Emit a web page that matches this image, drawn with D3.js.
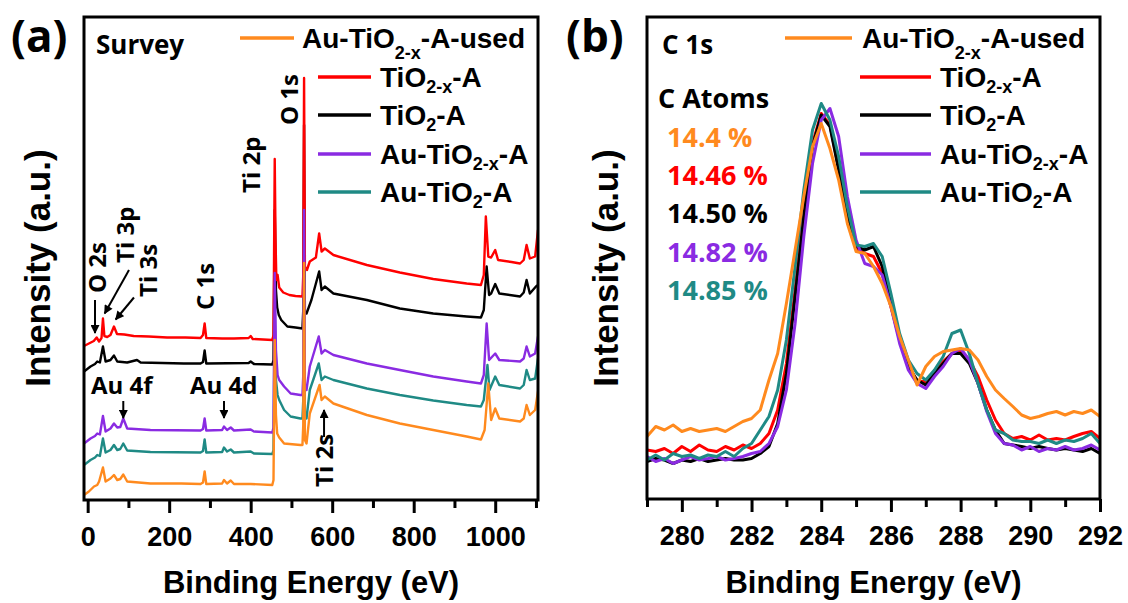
<!DOCTYPE html>
<html>
<head>
<meta charset="utf-8">
<script src="https://cdnjs.cloudflare.com/ajax/libs/d3/7.8.5/d3.min.js"></script>
<style>
    body { margin: 0; background: #fff; }
    svg text { font-family: "Liberation Sans", Arial, sans-serif; font-weight: bold; fill: #000; }
    svg text.os { font-family: "Open Sans", sans-serif; }
</style>
</head>
<body>
<svg id="chart" width="1128" height="603"></svg>
<script>
// ---- data ----
var sampleNames = ["Au-TiO2-x-A-used", "TiO2-x-A", "TiO2-A", "Au-TiO2-x-A", "Au-TiO2-A"];
var sampleColors = ["#ff8a1e", "#ff0000", "#000000", "#8a2be2", "#1f8a85"];
// legend label pieces: main, subscript, tail
var legendParts = [
    ["Au-TiO", "2-x", "-A-used"],
    ["TiO", "2-x", "-A"],
    ["TiO", "2", "-A"],
    ["Au-TiO", "2-x", "-A"],
    ["Au-TiO", "2", "-A"]
];
var carbonPercent = ["14.4 %", "14.46 %", "14.50 %", "14.82 %", "14.85 %"];

var surveyTicks = [0, 200, 400, 600, 800, 1000];
var surveyMinor = [100, 300, 500, 700, 900, 1100];
var c1sTicks = [280, 282, 284, 286, 288, 290, 292];
var c1sMinor = [279, 281, 283, 285, 287, 289, 291];

// survey spectra [binding energy, intensity], offset stacked
var surveyUsed = [[-9,1],[3,1.7],[15.5,2.7],[23.5,3],[28,3.7],[37.5,6.5],[44,3.7],[56,4.3],[64.5,5],[72.6,4],[80,4.2],[87.4,5.1],[97,3.7],[154,3.3],[230,3.3],[277,3.2],[283,3.5],[287,5.7],[291,3.2],[330,3.3],[334.5,4],[342,3.3],[351,3.9],[359,3.2],[400,3.2],[453,3],[456,4],[459,32],[462,17],[465,13.3],[470,12.5],[482,11.3],[522,11],[527,11],[529,15],[531,47.4],[533,12],[537,11.3],[545,17.3],[569,23],[574,20],[582,20.7],[603,19.3],[685,17],[766,15.3],[848,14],[930,12.7],[965,12.1],[974,14],[983,23.3],[990,16],[1000,18.3],[1010,16.3],[1061,15.7],[1070,16.3],[1077,19],[1085,17],[1098,18],[1105,21.7]];
var surveyTiO2xA = [[-9,30.8],[3,31.3],[15,31.8],[22,32.5],[28,31.7],[34,32.4],[37.5,36.3],[41,32.8],[48,32.6],[56,33],[64.5,34.7],[72,33.2],[90,33.1],[113,32.8],[150,32.7],[195,32.5],[240,32.5],[277,32.4],[283,33],[287,35.3],[291,32.4],[330,32.3],[359,32.3],[395,32.4],[400,32.8],[405,32.2],[453,32],[456,33],[459,68.2],[461,52],[463,44],[466,45],[470,42.5],[480,41.5],[495,41],[510,40.8],[527,40.7],[529,45],[531,84.4],[533,46.7],[538,46],[545,47.7],[560,48.5],[568,53.3],[574,49.7],[582,50.3],[603,49],[685,47],[766,45.5],[848,44.2],[930,43.3],[965,43],[972,45],[977,56.7],[983,48.7],[990,48.5],[1000,50],[1007,48],[1040,47.6],[1061,47.3],[1070,48],[1077,51],[1085,48.3],[1098,48.7],[1105,54]];
var surveyTiO2A = [[-9,25.7],[7,26.7],[18,27.2],[23.5,27.7],[30,27.5],[37.5,30.7],[44,27.7],[56,28],[64.5,28.9],[72.6,27.7],[97,27.5],[121,28],[130,27.5],[236,27.3],[277,27.3],[283,27.6],[287,29.9],[291,27.3],[395,27.4],[400,27.7],[408,27.2],[453,27.1],[456,28],[459,58],[462,42],[465,38.5],[469,37],[475,36],[490,34.7],[510,34.5],[527,34.3],[529,38],[531,75],[533,37.5],[537,37.3],[549,40],[568,45.7],[574,42],[582,42.7],[603,41.3],[685,40],[766,38.3],[848,37.3],[930,36.7],[965,36.5],[972,38],[979,46.7],[985,41],[990,41.3],[1000,43.2],[1010,41.3],[1061,40.7],[1070,41.5],[1077,44],[1085,41.3],[1100,42.7],[1105,43]];
var surveyAuTiO2xA = [[-9,11.3],[7,12.3],[18,12.8],[23.5,13.3],[30,13.1],[37.5,16.8],[44,13.7],[56,14.3],[64.5,15.3],[72.6,14.5],[80,14.6],[87.4,16.3],[97,14.3],[154,14],[277,13.9],[283,14.2],[287,16.3],[291,13.9],[330,14],[334.5,14.7],[342,14],[351,14.5],[359,13.9],[400,14.1],[408,13.7],[453,13.5],[456,14.5],[459,45.4],[462,30],[466,25],[470,24],[482,22.7],[498,21.3],[522,21],[527,21],[529,25],[531,58],[533,22.5],[537,22],[545,26.7],[567,32.7],[574,29.3],[582,30],[603,29],[685,27.3],[766,26],[848,24.7],[930,23.7],[965,23.3],[972,25],[979,35.3],[985,28],[1000,29.3],[1010,28],[1061,27.7],[1070,28.3],[1077,30.7],[1085,28.7],[1098,29.3],[1105,32.7]];
var surveyAuTiO2A = [[-9,7],[7,8],[18,8.5],[23.5,9],[30,8.8],[37.5,12.3],[44,9.5],[56,10],[64.5,11],[72.6,10],[80,10.2],[87.4,11.3],[97,9.9],[154,9.6],[277,9.5],[283,9.8],[287,12.1],[291,9.5],[330,9.6],[334.5,10.5],[342,9.7],[351,10.1],[359,9.5],[400,9.7],[408,9.3],[453,9.2],[456,10],[459,40],[462,24],[466,21],[470,20],[482,18],[498,16.7],[522,16.3],[527,16.3],[529,20],[531,54],[533,17],[537,16.3],[545,22],[567,27.3],[574,24],[582,24.7],[603,24],[685,22.3],[766,21],[848,19.9],[930,19],[965,18.7],[972,20],[981,27],[986,22],[1000,24.7],[1010,23],[1061,22.3],[1070,23],[1077,26],[1085,24],[1098,24.3],[1105,28.3]];

// C 1s high resolution spectra
var c1sEnergy = [279, 279.25, 279.5, 279.75, 280, 280.25, 280.5, 280.75, 281, 281.25, 281.5, 281.75, 282, 282.25, 282.5, 282.75, 283, 283.25, 283.5, 283.75, 284, 284.25, 284.5, 284.75, 285, 285.25, 285.5, 285.75, 286, 286.25, 286.5, 286.75, 287, 287.25, 287.5, 287.75, 288, 288.25, 288.5, 288.75, 289, 289.25, 289.5, 289.75, 290, 290.25, 290.5, 290.75, 291, 291.25, 291.5, 291.75, 292];
var c1sUsed = [12.5, 14.5, 13.8, 14.8, 13.5, 14.1, 13.5, 13.8, 14.1, 13.5, 14.5, 15.5, 16.1, 17.8, 23.8, 29.1, 39.1, 49.8, 60.5, 70.5, 75.1, 70.1, 63.8, 55.1, 49.5, 49.1, 46.5, 43.1, 38.5, 32.5, 27.8, 22.8, 26.5, 28.5, 29.5, 29.8, 30.1, 29.8, 27.8, 24.5, 21.8, 20.1, 18.5, 16.8, 16.1, 16.5, 17.1, 17.5, 16.8, 17.5, 17.1, 17.8, 16.5];
var c1sTiO2xA = [9.8, 9.5, 10.1, 9.1, 10.5, 9.5, 10.8, 9.8, 9.5, 10.5, 9.8, 10.8, 10.1, 11.1, 13.1, 17.8, 27.1, 41.8, 57.8, 71.1, 77.1, 74.8, 66.1, 56.8, 50.1, 49.1, 48.5, 45.1, 38.5, 31.8, 26.5, 23.5, 23.5, 25.5, 27.5, 29.1, 29.8, 27.8, 24.5, 19.8, 15.8, 13.1, 12.1, 12.5, 11.8, 12.8, 11.8, 12.1, 11.8, 12.5, 13.1, 13.5, 12.1];
var c1sTiO2A = [7.5, 8.1, 7.8, 7.1, 7.8, 7.5, 8.1, 7.5, 7.8, 8.1, 7.8, 7.8, 8.1, 9.1, 10.5, 15.1, 25.1, 40.5, 56.5, 70.5, 76.8, 74.5, 65.8, 56.5, 50.5, 49.8, 50.5, 46.5, 39.1, 31.8, 26.5, 23.8, 22.8, 25.1, 27.1, 29.1, 29.1, 27.1, 23.1, 17.8, 13.8, 11.1, 10.8, 10.5, 10.1, 10.5, 10.1, 9.8, 10.1, 9.8, 9.5, 10.1, 9.1];
var c1sAuTiO2xA = [8.5, 7.5, 8.1, 7.1, 7.8, 8.5, 7.8, 8.1, 8.5, 7.8, 8.1, 8.5, 9.1, 9.5, 11.1, 14.5, 21.8, 35.1, 52.5, 67.1, 75.8, 78.1, 72.5, 60.5, 51.8, 47.1, 46.5, 44.8, 38.5, 31.1, 25.8, 23.1, 22.1, 24.5, 26.5, 29.1, 30.1, 27.8, 23.1, 17.5, 13.1, 11.1, 10.8, 9.8, 10.5, 9.5, 10.1, 9.8, 10.5, 9.8, 10.1, 10.8, 9.8];
var c1sAuTiO2A = [7.8, 8.8, 7.8, 9.1, 8.5, 8.8, 8.1, 8.8, 8.5, 9.5, 8.5, 10.1, 11.1, 13.8, 16.5, 21.8, 31.8, 46.5, 61.8, 73.8, 79.1, 75.8, 68.5, 58.5, 50.8, 50.5, 51.1, 48.5, 41.1, 33.1, 27.8, 25.1, 23.8, 25.8, 28.5, 33.1, 33.8, 29.1, 23.1, 17.8, 13.8, 13.1, 11.8, 11.5, 11.5, 11.1, 11.8, 11.1, 11.8, 11.5, 12.1, 13.1, 11.1];

// peak labels on the survey: [text, energy, intensity]
var surveyLabels = [["O 2s", 45, 41.4], ["Ti 3p", 114, 47.4], ["Ti 3s", 170, 40.6], ["C 1s", 310, 38], ["Ti 2p", 423, 61.4], ["O 1s", 516, 75], ["Ti 2s", 602, 2.6]];
var auLabels = [["Au 4f", 8, 21.3], ["Au 4d", 251, 21.3]];
// arrows: [E from, I from, E to, I to]
var surveyArrows = [[18, 40, 18, 33.4], [101.4, 46, 41.7, 37.3], [113.6, 40.5, 68.7, 36.1], [87.4, 19.8, 87.4, 16.4], [334.5, 19.8, 334.5, 16.4], [580, 12.6, 580, 18]];

var svg = d3.select("#chart");

svg.append("defs").append("marker")
    .attr("id", "head")
    .attr("viewBox", "0 0 10 10")
    .attr("refX", 9).attr("refY", 5)
    .attr("markerWidth", 10).attr("markerHeight", 9)
    .attr("markerUnits", "userSpaceOnUse")
    .attr("orient", "auto")
    .append("path").attr("d", "M0,0L10,5L0,10z").attr("fill", "#000");

/**
 * рамка, оси и подписи одной панели
 **/
function drawFrame(p) {
    var g = svg.append("g");
    var y0 = p.y.range()[0];

    var major = g.append("g")
        .attr("transform", "translate(0," + y0 + ")")
        .call(d3.axisBottom(p.x).tickValues(p.ticks).tickSize(13).tickFormat(d3.format("d")));
    major.selectAll("text").attr("y", 46).attr("dy", 0).style("font-size", "27px");

    g.append("g")
        .attr("transform", "translate(0," + y0 + ")")
        .call(d3.axisBottom(p.x).tickValues(p.minor).tickSize(8).tickFormat(""));

    g.selectAll(".domain").remove();
    g.selectAll(".tick line").attr("stroke", "#000").attr("stroke-width", 3);

    g.append("rect")
        .attr("x", p.x.range()[0]).attr("y", p.y.range()[1])
        .attr("width", p.x.range()[1] - p.x.range()[0])
        .attr("height", y0 - p.y.range()[1])
        .attr("fill", "none").attr("stroke", "#000").attr("stroke-width", 3);

    g.append("text")
        .attr("x", (p.x.range()[0] + p.x.range()[1]) / 2).attr("y", 593)
        .attr("text-anchor", "middle").style("font-size", "31px")
        .text("Binding Energy (eV)");

    g.append("text")
        .attr("transform", "translate(" + p.titleX + ",268) rotate(-90)")
        .attr("text-anchor", "middle").style("font-size", "35px")
        .text("Intensity (a.u.)");

    g.append("text").attr("class", "os")
        .attr("x", p.letterX).attr("y", 52).style("font-size", "44px")
        .text(p.letter);

    g.append("text").attr("class", "os")
        .attr("x", p.x.range()[0] + p.tagDx).attr("y", 54).style("font-size", "26px")
        .text(p.tag);
}

function drawLegend(x1, x2, tx, x1b, x2b, txb) {
    var rowsY = [48, 87, 125, 164, 202];
    legendParts.forEach(function(parts, i) {
        var lx1 = i === 0 ? x1b : x1, lx2 = i === 0 ? x2b : x2, ltx = i === 0 ? txb : tx;
        svg.append("line")
            .attr("x1", lx1).attr("x2", lx2)
            .attr("y1", rowsY[i] - 10).attr("y2", rowsY[i] - 10)
            .attr("stroke", sampleColors[i]).attr("stroke-width", 3.5);
        var drop = i === 0 ? 11 : 6;
        var t = svg.append("text").attr("x", ltx).attr("y", rowsY[i]).style("font-size", "28px");
        t.append("tspan").text(parts[0]);
        t.append("tspan").attr("dy", drop).style("font-size", "18px").text(parts[1]);
        t.append("tspan").attr("dy", -drop).text(parts[2]);
    });
}

function clipTo(id, x, y) {
    svg.select("defs").append("clipPath").attr("id", id)
        .append("rect")
        .attr("x", x.range()[0]).attr("y", y.range()[1])
        .attr("width", x.range()[1] - x.range()[0])
        .attr("height", y.range()[0] - y.range()[1]);
}

// ---- panel (a): survey ----
var xA = d3.scaleLinear().domain([-9, 1105]).range([84, 538]);
var yA = d3.scaleLinear().domain([0, 96.6]).range([500, 17]);
clipTo("clipA", xA, yA);

var lineA = d3.line().x(function(d) { return xA(d[0]); }).y(function(d) { return yA(d[1]); });
// порядок как на оригинале: верхние перекрывают нижние
var surveyOrder = [[surveyTiO2A, 2], [surveyAuTiO2A, 4], [surveyTiO2xA, 1], [surveyAuTiO2xA, 3], [surveyUsed, 0]];
var gA = svg.append("g").attr("clip-path", "url(#clipA)");
surveyOrder.forEach(function(s) {
    gA.append("path").datum(s[0])
        .attr("d", lineA)
        .attr("fill", "none")
        .attr("stroke", sampleColors[s[1]])
        .attr("stroke-width", 2.4)
        .attr("stroke-linejoin", "round");
});

surveyLabels.forEach(function(l) {
    svg.append("text").attr("class", "os")
        .attr("transform", "translate(" + xA(l[1]) + "," + yA(l[2]) + ") rotate(-90)")
        .style("font-size", "24px")
        .text(l[0]);
});
auLabels.forEach(function(l) {
    svg.append("text").attr("class", "os")
        .attr("x", xA(l[1])).attr("y", yA(l[2]))
        .style("font-size", "24px")
        .text(l[0]);
});
surveyArrows.forEach(function(a) {
    svg.append("line")
        .attr("x1", xA(a[0])).attr("y1", yA(a[1]))
        .attr("x2", xA(a[2])).attr("y2", yA(a[3]))
        .attr("stroke", "#000").attr("stroke-width", 2)
        .attr("marker-end", "url(#head)");
});

drawFrame({ x: xA, y: yA, ticks: surveyTicks, minor: surveyMinor, titleX: 50, letter: "(a)", letterX: 11, tag: "Survey", tagDx: 12 });
drawLegend(318, 371, 380, 240, 294, 302);

// ---- panel (b): C 1s ----
var xB = d3.scaleLinear().domain([279, 292]).range([647, 1100]);
var yB = d3.scaleLinear().domain([0, 96.4]).range([499, 17]);
clipTo("clipB", xB, yB);

var c1sOrder = [[c1sTiO2xA, 1], [c1sTiO2A, 2], [c1sAuTiO2xA, 3], [c1sAuTiO2A, 4], [c1sUsed, 0]];
var lineB = d3.line().x(function(d, i) { return xB(c1sEnergy[i]); }).y(function(d) { return yB(d); });
var gB = svg.append("g").attr("clip-path", "url(#clipB)");
c1sOrder.forEach(function(s) {
    gB.append("path").datum(s[0])
        .attr("d", lineB)
        .attr("fill", "none")
        .attr("stroke", sampleColors[s[1]])
        .attr("stroke-width", 3)
        .attr("stroke-linejoin", "round");
});

svg.append("text").attr("class", "os")
    .attr("x", 658).attr("y", 108).style("font-size", "27px")
    .text("C Atoms");
carbonPercent.forEach(function(t, i) {
    svg.append("text").attr("class", "os")
        .attr("x", 667).attr("y", [147, 185, 223, 262, 300][i])
        .style("font-size", "27px")
        .style("fill", sampleColors[i])
        .text(t);
});

drawFrame({ x: xB, y: yB, ticks: c1sTicks, minor: c1sMinor, titleX: 618, letter: "(b)", letterX: 566, tag: "C 1s", tagDx: 15 });
drawLegend(860, 931, 940, 785, 852, 862);
</script>
</body>
</html>
